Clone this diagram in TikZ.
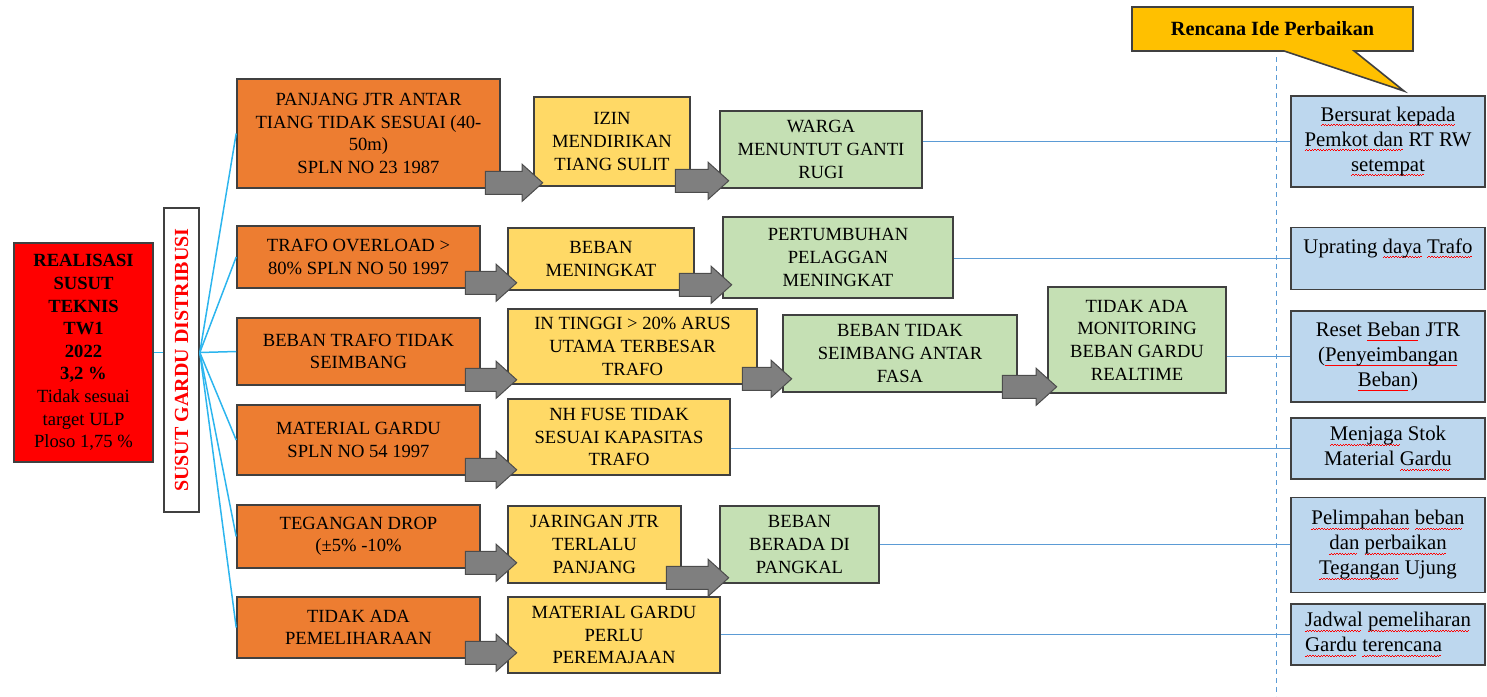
\documentclass[tikz,border=0pt]{standalone}
\usepackage{fontspec}
\setmainfont{Liberation Serif}
\usetikzlibrary{positioning, calc, shapes.arrows, shapes.callouts}

\definecolor{LossRed}{HTML}{FF0000}
\definecolor{CauseOrange}{HTML}{ED7D31}
\definecolor{WhyYellow}{HTML}{FFD966}
\definecolor{RootGreen}{HTML}{C5E0B4}
\definecolor{FixBlue}{HTML}{BDD7EE}
\definecolor{CalloutGold}{HTML}{FFC000}
\definecolor{FanBlue}{HTML}{2CB5EE}
\definecolor{PlanBlue}{HTML}{5B9BD5}
\definecolor{ArrowGray}{HTML}{7F7F7F}

\tikzset{BoxSize/.style 2 args={%
    minimum width=#1*0.5pt,%
    minimum height=#2*0.5pt,%
}}
\tikzset{BoxBase/.style={%
    shape=rectangle,%
    draw=black!75,%
    line width=0.8pt,%
    inner sep=1pt,%
    align=center,%
    font=\fontsize{9.3}{11.3}\selectfont,%
}}
\tikzset{LossBox/.style={BoxBase, fill=LossRed}}
\tikzset{TitleBox/.style={BoxBase, fill=white, text=LossRed,%
    font=\fontsize{10}{12}\selectfont\bfseries}}
\tikzset{CauseBox/.style={BoxBase, fill=CauseOrange}}
\tikzset{WhyBox/.style={BoxBase, fill=WhyYellow}}
\tikzset{RootBox/.style={BoxBase, fill=RootGreen}}
\tikzset{FixBox/.style={BoxBase, fill=FixBlue,%
    font=\fontsize{10.4}{12.5}\selectfont}}
\tikzset{IdeaCallout/.style={%
    shape=rectangle callout,%
    draw=black!75,%
    fill=CalloutGold,%
    line width=0.8pt,%
    callout pointer width=35pt,%
    font=\fontsize{10.1}{12}\selectfont\bfseries,%
}}
\tikzset{FlowArrow/.style={%
    shape=single arrow,%
    fill=ArrowGray,%
    draw=black!70,%
    line width=0.5pt,%
    inner xsep=0pt,%
    inner ysep=5.5pt,%
    single arrow head extend=3.5pt,%
    single arrow tip angle=84,%
}}
\tikzset{FanLine/.style={%
    draw=FanBlue,%
    line width=0.75pt,%
}}
\tikzset{PlanLine/.style={%
    draw=PlanBlue,%
    line width=0.5pt,%
}}
\tikzset{GuideLine/.style={%
    draw=PlanBlue,%
    line width=0.5pt,%
    dash pattern=on 2.5pt off 2pt,%
}}

\newsavebox{\spellBox}
\newcommand{\spellErr}[1]{%
    \sbox{\spellBox}{#1}%
    \rlap{\color{red}\lower2.3pt\hbox to \wd\spellBox{%
        \leaders\hbox{\rule{0.7pt}{0.4pt}\raise0.45pt\hbox{\rule{0.7pt}{0.4pt}}}\hfill}}%
    \usebox{\spellBox}%
}
\newcommand{\flowArrow}[2]{%
    \path let \p1=(#1.south east), \p2=(#2.west) in
        node[FlowArrow, minimum height=\x2-\x1+12.5pt, anchor=tail]
        at (\x1-8pt,\y1+3pt) {};%
}

\begin{document}
\begin{tikzpicture}[x=0.5pt, y=-0.5pt]
    \useasboundingbox (0,0) rectangle (1487,696);

    \node[LossBox, BoxSize={139}{219}] (loss) at (83.5,352.5)
        {\textbf{REALISASI}\\ \textbf{SUSUT}\\ \textbf{TEKNIS}\\ \textbf{TW1}\\
         \textbf{2022}\\ \textbf{3,2 \%}\\ Tidak sesuai\\ target ULP\\ Ploso 1,75 \%};
    \node[TitleBox, BoxSize={35}{304}] (title) at (181.5,360)
        {\rotatebox{90}{SUSUT GARDU DISTRIBUSI}};

    % penyebab
    \node[CauseBox, BoxSize={263}{109}] (c1) at (368.5,133.5)
        {PANJANG JTR ANTAR\\ TIANG TIDAK SESUAI (40-\\ 50m)\\ SPLN NO 23 1987};
    \node[CauseBox, BoxSize={243}{62}] (c2) at (358.5,257)
        {TRAFO OVERLOAD >\\ 80\% SPLN NO 50 1997};
    \node[CauseBox, BoxSize={243}{67}] (c3) at (358.5,351.5)
        {BEBAN TRAFO TIDAK\\ SEIMBANG};
    \node[CauseBox, BoxSize={243}{70}] (c4) at (358.5,440)
        {MATERIAL GARDU\\ SPLN NO 54 1997};
    \node[CauseBox, BoxSize={243}{63}] (c5) at (358.5,536.5)
        {TEGANGAN DROP\\ (±5\% -10\%};
    \node[CauseBox, BoxSize={243}{61}] (c6) at (358.5,627.5)
        {TIDAK ADA\\ PEMELIHARAAN};

    \node[WhyBox, BoxSize={156}{89}] (w1) at (612,141.5)
        {IZIN\\ MENDIRIKAN\\ TIANG SULIT};
    \node[WhyBox, BoxSize={186}{62}] (w2) at (601,259)
        {BEBAN\\ MENINGKAT};
    \node[WhyBox, BoxSize={249}{75}] (w3) at (632.5,346.5)
        {IN TINGGI > 20\% ARUS\\ UTAMA TERBESAR\\ TRAFO};
    \node[WhyBox, BoxSize={222}{76}] (w4) at (619,437)
        {NH FUSE TIDAK\\ SESUAI KAPASITAS\\ TRAFO};
    \node[WhyBox, BoxSize={173}{77}] (w5) at (594.5,544.5)
        {JARINGAN JTR\\ TERLALU\\ PANJANG};
    \node[WhyBox, BoxSize={212}{76}] (w6) at (614,635)
        {MATERIAL GARDU\\ PERLU\\ PEREMAJAAN};

    \node[RootBox, BoxSize={202}{77}] (r1) at (821,149.5)
        {WARGA\\ MENUNTUT GANTI\\ RUGI};
    \node[RootBox, BoxSize={230}{81}] (r2) at (838,257.5)
        {PERTUMBUHAN\\ PELAGGAN\\ MENINGKAT};
    \node[RootBox, BoxSize={234}{77}] (r3) at (900,353.5)
        {BEBAN TIDAK\\ SEIMBANG ANTAR\\ FASA};
    \node[RootBox, BoxSize={178}{106}] (r4) at (1137,340)
        {TIDAK ADA\\ MONITORING\\ BEBAN GARDU\\ REALTIME};
    \node[RootBox, BoxSize={159}{77}] (r5) at (799.5,544.5)
        {BEBAN\\ BERADA DI\\ PANGKAL};

    % rencana perbaikan
    \node[IdeaCallout, minimum width=140.5pt, minimum height=22pt,
        callout absolute pointer={(1404,91)}] (idea) at (1272.5,29)
        {Rencana Ide Perbaikan};
    \coordinate (guideTop) at (1276,57);
    \coordinate (guideEnd) at (1276,696);
    \draw[GuideLine] (guideTop) -- (guideEnd);

    \node[FixBox, BoxSize={194}{91}] (f1) at (1388,141.5)
        {\spellErr{Bersurat kepada}\\ \spellErr{Pemkot dan} RT RW\\ \spellErr{setempat}};
    \node[FixBox, BoxSize={194}{62}, below=19.5pt of f1] (f2)
        {Uprating \spellErr{daya} \spellErr{Trafo}\\ ~};
    \node[FixBox, BoxSize={194}{91}, below=10pt of f2] (f3)
        {Reset \spellErr{Beban} JTR\\ (\spellErr{Penyeimbangan}\\ \spellErr{Beban})};
    \node[FixBox, BoxSize={194}{61}, below=7pt of f3] (f4)
        {\spellErr{Menjaga} Stok\\ Material \spellErr{Gardu}};
    \node[FixBox, BoxSize={194}{95}, below=8.5pt of f4] (f5)
        {\spellErr{Pelimpahan} \spellErr{beban}\\ \spellErr{dan} \spellErr{perbaikan}\\ \spellErr{Tegangan} Ujung};
    \node[FixBox, BoxSize={194}{61}, below=5pt of f5, align=left] (f6)
        {\spellErr{Jadwal} \spellErr{pemeliharan}\\ \spellErr{Gardu} \spellErr{terencana}};

    % garis
    \coordinate (hub) at (loss.east -| title.east);
    \draw[FanLine] (loss.east) -- (loss.east -| title.west);
    \foreach \c in {c1,c2,c3,c4,c5,c6}
        \draw[FanLine] (hub) -- (\c.west);
    \foreach \s/\t in {r1/f1, r2/f2, r4/f3, w4/f4, r5/f5, w6/f6}
        \draw[PlanLine] (\s.east |- \t.west) -- (\t.west);

    \foreach \s/\t in {c1/w1, w1/r1, c2/w2, w2/r2, c3/w3, w3/r3, r3/r4,
                       c4/w4, c5/w5, w5/r5, c6/w6}
        \flowArrow{\s}{\t};
\end{tikzpicture}
\end{document}
